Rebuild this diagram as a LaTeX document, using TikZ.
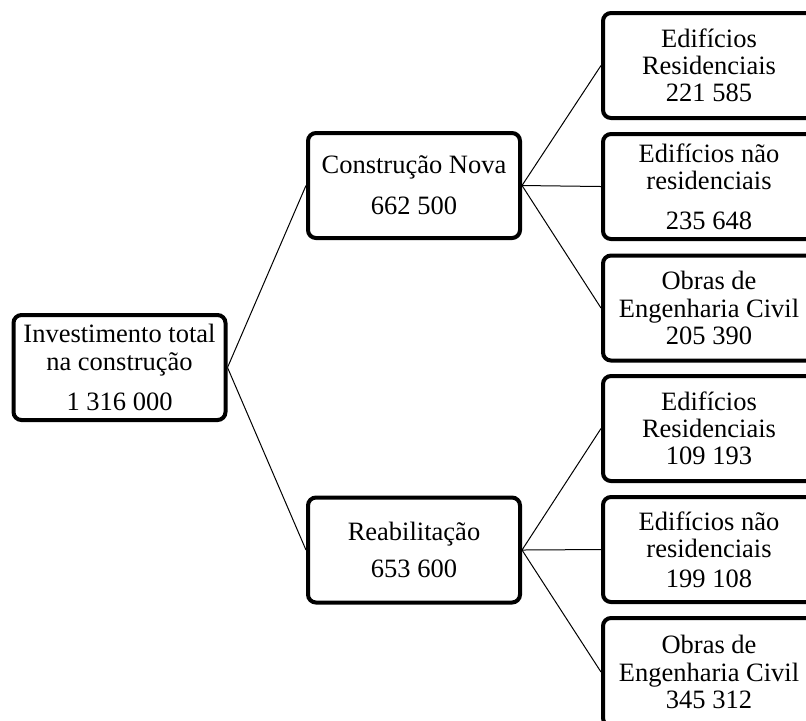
\documentclass[tikz,border=0pt]{standalone}
\usepackage{fontspec}
\setmainfont{Liberation Serif}
\usepackage{tikz}
\usetikzlibrary{arrows.meta}

\begin{document}
\begin{tikzpicture}[
    x=0.5pt, y=-0.5pt,
    box/.style={
        rectangle,
        rounded corners=4pt,
        draw=black,
        line width=2pt,
        align=center,
        inner sep=0pt,
        minimum width=106pt,
        minimum height=52.5pt,
        node font={\fontsize{13.25}{13.6}\selectfont}},
    link/.style={draw=black, line width=0.5pt}]

    \useasboundingbox (0,0) rectangle (806,720);
    \clip (0,0) rectangle (806,720);

    \node[box] (total) at (119.5,367.5)
        {Investimento total\\na construção\\[6.5pt]1 316 000};

    \node[box] (nova) at (414,185.5)
        {Construção Nova\\[7pt]662 500};

    \node[box] (reab) at (414,550)
        {Reabilitação\\[5pt]653 600};

    \node[box] (novaRes) at (709,65.5)
        {Edifícios\\Residenciais\\221 585};
    \node[box] (novaNRes) at (709,186.5)
        {Edifícios não\\residenciais\\[6.5pt]235 648};
    \node[box] (novaObras) at (709,308)
        {Obras de\\Engenharia Civil\\205 390};

    \node[box] (reabRes) at (709,428.5)
        {Edifícios\\Residenciais\\109 193};
    \node[box] (reabNRes) at (709,549.5)
        {Edifícios não\\residenciais\\[1.5pt]199 108};
    \node[box, minimum height=54pt] (reabObras) at (709,672)
        {Obras de\\Engenharia Civil\\345 312};

    \draw[link] (total.east) -- (nova.west);
    \draw[link] (total.east) -- (reab.west);

    \draw[link] (nova.east) -- (novaRes.west);
    \draw[link] (nova.east) -- (novaNRes.west);
    \draw[link] (nova.east) -- (novaObras.west);

    \draw[link] (reab.east) -- (reabRes.west);
    \draw[link] (reab.east) -- (reabNRes.west);
    \draw[link] (reab.east) -- (reabObras.west);
\end{tikzpicture}
\end{document}
